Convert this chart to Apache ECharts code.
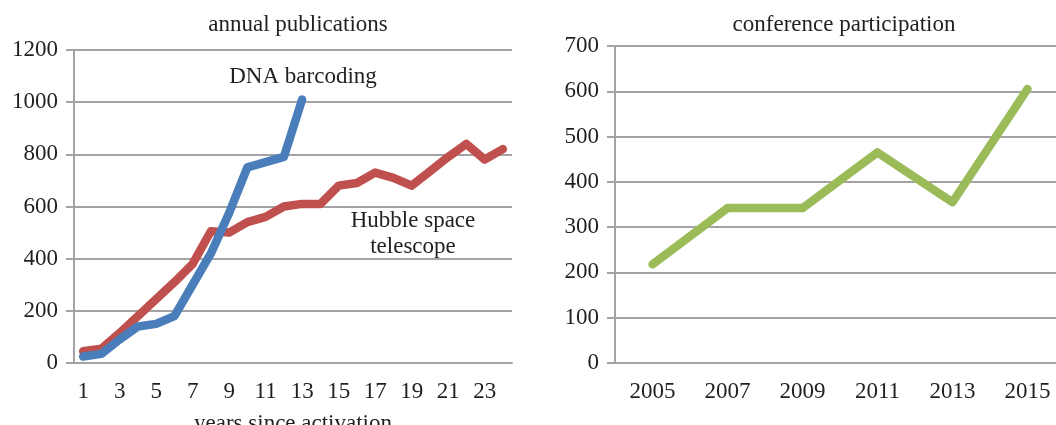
<!DOCTYPE html>
<html>
<head>
<meta charset="utf-8">
<script src="https://cdn.jsdelivr.net/npm/echarts@6/dist/echarts.min.js"></script>
<style>
  html, body { margin: 0; padding: 0; background: #fff; }
  #chart { width: 1056px; height: 425px; }
</style>
</head>
<body>
<div id="chart"></div>
<script>
// years since activation
const years = ['1', '2', '3', '4', '5', '6', '7', '8', '9', '10', '11', '12',
  '13', '14', '15', '16', '17', '18', '19', '20', '21', '22', '23', '24']
// annual publications
const dnaBarcoding = [25, 35, 90, 140, 150, 180, 300, 420, 575, 750, 770, 790, 1010]
const hubble = [45, 55, 115, 180, 245, 310, 380, 505, 500, 540, 560, 600,
  610, 610, 680, 690, 730, 710, 680, 735, 790, 840, 780, 820]
// conference participation
const confYears = ['2005', '2007', '2009', '2011', '2013', '2015']
const participants = [218, 342, 342, 465, 355, 605]

const FONT = '"Liberation Serif", "DejaVu Serif", serif'
const FS = 23
const GRID_GRAY = '#a3a3a3'
const TEXT = '#231f20'

const chart = echarts.init(document.getElementById('chart'))

const yAxisBase = {
  type: 'value',
  axisLine: { show: true, lineStyle: { color: GRID_GRAY, width: 2 } },
  axisTick: { show: true, length: 8, lineStyle: { color: GRID_GRAY, width: 2 } },
  axisLabel: { color: TEXT, fontFamily: FONT, fontSize: FS, margin: 16, formatter: v => String(v) },
  splitLine: { lineStyle: { color: GRID_GRAY, width: 2 } }
}

const xAxisBase = {
  type: 'category',
  boundaryGap: true,
  axisLine: { lineStyle: { color: GRID_GRAY, width: 2 } },
  axisTick: { length: 7, lineStyle: { color: GRID_GRAY, width: 2 } },
  axisLabel: { color: TEXT, fontFamily: FONT, fontSize: FS, margin: 17 }
}

const lineStyle = (color) => ({ color, width: 8.5, cap: 'round', join: 'round' })

chart.setOption({
  animation: false,
  title: [
    {
      text: 'annual publications',
      left: 293, top: 8, textAlign: 'center',
      textStyle: { fontFamily: FONT, fontSize: FS, fontWeight: 'normal', color: TEXT }
    },
    {
      text: 'conference participation',
      left: 839, top: 8, textAlign: 'center',
      textStyle: { fontFamily: FONT, fontSize: FS, fontWeight: 'normal', color: TEXT }
    }
  ],
  grid: [
    { left: 74, top: 50, right: 544, bottom: 62, outerBoundsMode: 'none', containLabel: false },
    { left: 615, top: 46, right: -9, bottom: 62, outerBoundsMode: 'none', containLabel: false }
  ],
  xAxis: [
    {
      ...xAxisBase,
      gridIndex: 0,
      data: years,
      axisTick: { ...xAxisBase.axisTick, interval: 0 },
      axisLabel: { ...xAxisBase.axisLabel, interval: 1 },
      name: 'years since activation',
      nameLocation: 'middle',
      nameGap: 49,
      nameTextStyle: { color: TEXT, fontFamily: FONT, fontSize: FS }
    },
    {
      ...xAxisBase,
      gridIndex: 1,
      data: confYears,
      axisLabel: { ...xAxisBase.axisLabel, interval: 0 }
    }
  ],
  yAxis: [
    { ...yAxisBase, gridIndex: 0, min: 0, max: 1200, interval: 200 },
    { ...yAxisBase, gridIndex: 1, min: 0, max: 700, interval: 100 }
  ],
  series: [
    {
      name: 'Hubble space telescope',
      type: 'line',
      xAxisIndex: 0, yAxisIndex: 0,
      data: hubble,
      symbol: 'none',
      lineStyle: lineStyle('#c0504d'),
      itemStyle: { color: '#c0504d' },
      z: 2
    },
    {
      name: 'DNA barcoding',
      type: 'line',
      xAxisIndex: 0, yAxisIndex: 0,
      data: dnaBarcoding,
      symbol: 'none',
      lineStyle: lineStyle('#4a7ebb'),
      itemStyle: { color: '#4a7ebb' },
      z: 3
    },
    {
      name: 'conference participation',
      type: 'line',
      xAxisIndex: 1, yAxisIndex: 1,
      data: participants,
      symbol: 'none',
      lineStyle: lineStyle('#9bbb59'),
      itemStyle: { color: '#9bbb59' }
    }
  ],
  graphic: [
    {
      type: 'text',
      style: { x: 303, y: 77, text: 'DNA barcoding', font: FS + 'px ' + FONT, fill: TEXT, align: 'center', verticalAlign: 'middle' }
    },
    {
      type: 'text',
      style: { x: 413, y: 221, text: 'Hubble space', font: FS + 'px ' + FONT, fill: TEXT, align: 'center', verticalAlign: 'middle' }
    },
    {
      type: 'text',
      style: { x: 413, y: 247, text: 'telescope', font: FS + 'px ' + FONT, fill: TEXT, align: 'center', verticalAlign: 'middle' }
    }
  ]
})

window.addEventListener('resize', () => chart.resize())
</script>
</body>
</html>
